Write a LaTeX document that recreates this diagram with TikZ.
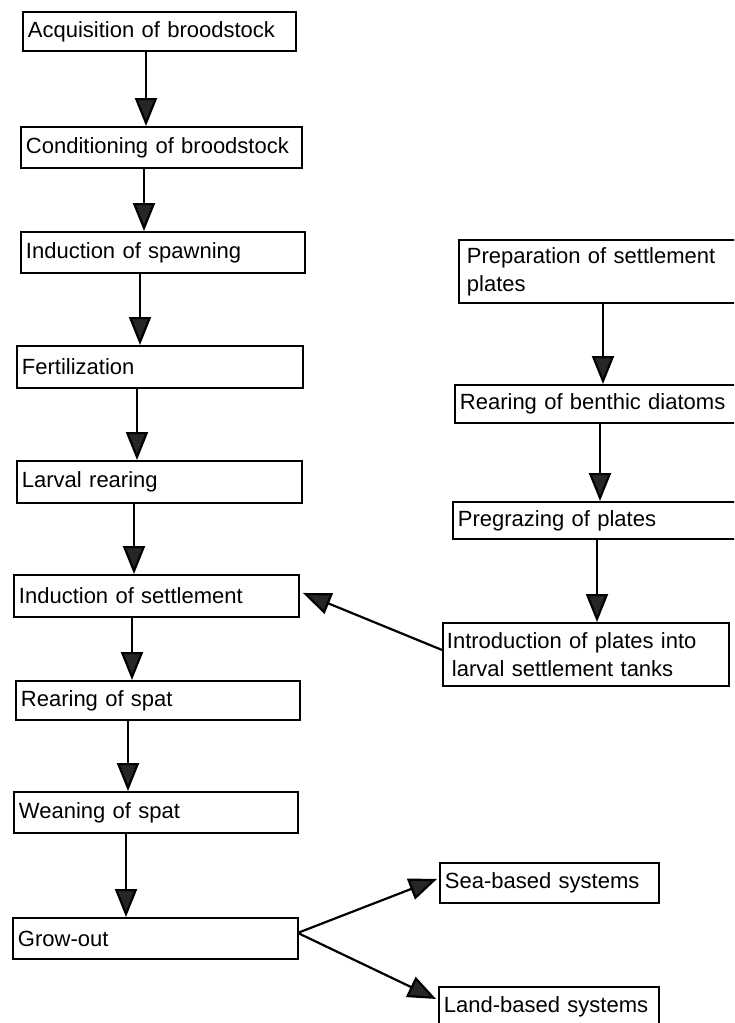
\documentclass[tikz,border=0pt]{standalone}
\usepackage{fontspec}
\setmainfont{Liberation Sans}
\usetikzlibrary{arrows.meta}
\begin{document}
\begin{tikzpicture}[x=1pt,y=-1pt,
  box/.style={draw, line width=1.9pt, inner xsep=5pt, inner ysep=0pt, align=left,
    anchor=north west, font=\fontsize{22pt}{28pt}\selectfont},
  arr/.style={line width=2.2pt, -{Triangle[width=22pt,length=28pt,fill=black!85]}}]
\useasboundingbox (0,0) rectangle (734,1023);
\clip (0,0) rectangle (734,1023);
\fill[white] (0,0) rectangle (734,1023);
% left column
\node[box, text width=263pt, minimum height=39pt] (L1) at (22,11) {Acquisition of broodstock};
\node[box, text width=271pt, minimum height=41pt] (L2) at (20,126) {Conditioning of broodstock};
\node[box, text width=274pt, minimum height=41pt] (L3) at (20,231) {Induction of spawning};
\node[box, text width=276pt, minimum height=42pt] (L4) at (16,345) {Fertilization};
\node[box, text width=275pt, minimum height=42pt] (L5) at (16,460) {Larval rearing};
\node[box, text width=275pt, minimum height=42pt] (L6) at (13,574) {Induction of settlement};
\node[box, text width=274pt, minimum height=39pt] (L7) at (15,680) {Rearing of spat};
\node[box, text width=274pt, minimum height=41pt] (L8) at (13,791) {Weaning of spat};
\node[box, text width=275pt, minimum height=41pt] (L9) at (12,917) {Grow-out};
% right column (right borders lie beyond the picture edge)
\node[box, text width=300pt, minimum height=63pt, inner xsep=8pt] (R1) at (458,239) {Preparation of settlement\\plates};
\node[box, text width=300pt, minimum height=38pt] (R2) at (454,384) {Rearing of benthic diatoms};
\node[box, text width=300pt, minimum height=37pt] (R3) at (452,501) {Pregrazing of plates};
\node[box, text width=278pt, minimum height=63pt, inner xsep=4pt] (R4) at (442,622) {Introduction of plates into\\\hspace*{5pt}larval settlement tanks};
\node[box, text width=209pt, minimum height=40pt] (S) at (439,862) {Sea-based systems};
\node[box, text width=210pt, minimum height=40pt] (LB) at (438,986) {Land-based systems};
% arrow columns
\coordinate (a1) at (146,0);
\coordinate (a2) at (144,0);
\coordinate (a3) at (140,0);
\coordinate (a4) at (137,0);
\coordinate (a5) at (134,0);
\coordinate (a6) at (132,0);
\coordinate (a7) at (128,0);
\coordinate (a8) at (126,0);
\coordinate (b1) at (603,0);
\coordinate (b2) at (600,0);
\coordinate (b3) at (597,0);
\draw[arr] (L1.south -| a1) -- (L2.north -| a1);
\draw[arr] (L2.south -| a2) -- (L3.north -| a2);
\draw[arr] (L3.south -| a3) -- (L4.north -| a3);
\draw[arr] (L4.south -| a4) -- (L5.north -| a4);
\draw[arr] (L5.south -| a5) -- (L6.north -| a5);
\draw[arr] (L6.south -| a6) -- (L7.north -| a6);
\draw[arr] (L7.south -| a7) -- (L8.north -| a7);
\draw[arr] (L8.south -| a8) -- (L9.north -| a8);
\draw[arr] (R1.south -| b1) -- (R2.north -| b1);
\draw[arr] (R2.south -| b2) -- (R3.north -| b2);
\draw[arr] (R3.south -| b3) -- (R4.north -| b3);
\draw[arr] ([yshift=4.5pt]R4.west) -- ([xshift=3pt,yshift=3pt]L6.east);
\draw[arr] ([yshift=6pt]L9.east) -- ([xshift=-2pt,yshift=4pt]S.west);
\draw[arr] ([yshift=5pt]L9.east) -- ([xshift=-2pt,yshift=8pt]LB.west);
\end{tikzpicture}
\end{document}
